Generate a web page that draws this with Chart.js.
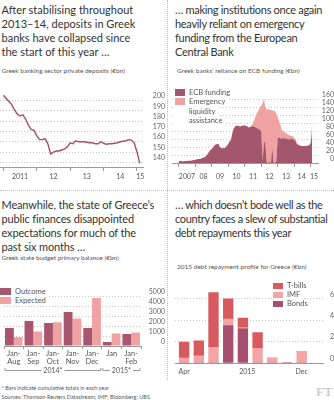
<!DOCTYPE html>
<html>
<head>
<meta charset="utf-8">
<script src="https://cdn.jsdelivr.net/npm/chart.js@4.4.1/dist/chart.umd.min.js"></script>
<style>
  html, body { margin: 0; padding: 0; background: #fff; }
  body { width: 334px; height: 400px; position: relative; overflow: hidden; font-family: Lato, "Open Sans", sans-serif; color: #333; }
  .title { position: absolute; font-size: 11px; line-height: 13.9px; color: #333; white-space: nowrap; }
  .sub { position: absolute; font-size: 6.5px; line-height: 8px; color: #555; white-space: nowrap; }
  .box { position: absolute; }
  .legend { position: absolute; font-size: 7.5px; color: #555; }
  .legend div { display: table; background: #fff; padding-right: 3px; white-space: nowrap; }
  .sw { display: inline-block; width: 10px; height: 7px; vertical-align: -1px; margin-right: 4px; }
  .vsep { position: absolute; left: 167px; top: 0; height: 380px; border-left: 1px dotted #bbb; }
  .hsep { position: absolute; left: 0; top: 190px; width: 334px; border-top: 1px dotted #bbb; }
  .note { position: absolute; left: 1.5px; font-size: 5.5px; line-height: 6.5px; color: #555; white-space: nowrap; }
  .ft { position: absolute; left: 316px; top: 385px; font: bold 13px "Liberation Serif", serif; color: #ccc; line-height: 13px; }
</style>
</head>
<body>
<div class="vsep"></div>
<div class="hsep"></div>

<div class="title" style="left:1.5px;top:3px">After stabilising throughout<br>2013–14, deposits in Greek<br>banks have collapsed since<br>the start of this year …</div>
<div class="sub" style="left:1.5px;top:67px">Greek banking sector private deposits (€bn)</div>

<div class="title" style="left:175px;top:3px;letter-spacing:-0.3px">… making institutions once again<br>heavily reliant on emergency<br>funding from the European<br>Central Bank</div>
<div class="sub" style="left:177px;top:67px">Greek banks’ reliance on ECB funding (€bn)</div>

<div class="title" style="left:1.5px;top:198px;letter-spacing:-0.15px">Meanwhile, the state of Greece’s<br>public finances disappointed<br>expectations for much of the<br>past six months …</div>
<div class="sub" style="left:1.5px;top:254px">Greek state budget primary balance (€bn)</div>

<div class="title" style="left:175px;top:198px;letter-spacing:-0.35px">… which doesn’t bode well as the<br>country faces a slew of substantial<br>debt repayments this year</div>
<div class="sub" style="left:177px;top:263px">2015 debt repayment profile for Greece (€bn)</div>

<div class="box" style="left:0;top:84px;width:165px;height:100px"><canvas id="c1"></canvas></div>
<div class="box" style="left:167px;top:84px;width:167px;height:100px"><canvas id="c2"></canvas></div>
<div class="box" style="left:0;top:286px;width:165px;height:94px"><canvas id="c3"></canvas></div>
<div class="box" style="left:167px;top:282px;width:167px;height:98px"><canvas id="c4"></canvas></div>

<div class="legend" style="left:175px;top:87.5px;line-height:9.5px">
  <div><span class="sw" style="background:#a5566f"></span>ECB funding</div>
  <div><span class="sw" style="background:#f0a1a2"></span>Emergency</div>
  <div style="padding-left:14px">liquidity</div>
  <div style="padding-left:14px">assistance</div>
</div>
<div class="legend" style="left:0;top:287px;line-height:9.3px">
  <div><span class="sw" style="width:11px;background:#a8566f"></span>Outcome</div>
  <div><span class="sw" style="width:11px;background:#f0a1a2"></span>Expected</div>
</div>
<div class="legend" style="left:273px;top:282.3px;line-height:8.7px">
  <div><span class="sw" style="height:6px;background:#d75b5e"></span>T-bills</div>
  <div><span class="sw" style="height:6px;background:#f3a4a4"></span>IMF</div>
  <div><span class="sw" style="height:6px;background:#a5506e"></span>Bonds</div>
</div>

<div class="note" style="top:385px">* Bars indicate cumulative totals in each year</div>
<div class="note" style="top:393.5px">Sources: Thomson Reuters Datastream; IMF; Bloomberg; UBS</div>
<div class="ft">FT</div>

<script>
// deposits, monthly from Jan 2011
const depStart = 2011;
const deposits = [
  205, 202, 199, 196, 191, 187, 185, 186, 182, 176, 172, 171,
  166, 162, 162, 163, 158, 148, 150, 151, 151, 152, 153, 155,
  159, 158, 161, 160, 160, 160, 159.5, 159, 159, 158, 158, 160,
  158.5, 157.5, 158, 158, 158.5, 159, 160, 160.5, 161, 162, 161.5, 159,
  150, 139
];
const depYearTicks = [2011, 2012, 2013, 2014, 2015];
const depLabelPos = [2011.5, 2012.5, 2013.5, 2014.5, 2015.1];
const depLabels = ['2011', '12', '13', '14', '15'];
const depYTicks = [140, 150, 160, 170, 180, 190, 200];

// ECB funding + ELA, monthly from Jan 2007
const ecbStart = 2007;
const ecbFunding = [
  5, 5, 5, 4, 5, 5, 5, 6, 6, 6, 7, 7,
  8, 9, 10, 10, 11, 12, 14, 15, 18, 23, 28, 33,
  35, 40, 45, 47, 48, 48, 40, 38, 37, 37, 40, 43,
  48, 55, 59, 75, 87, 92, 95, 94, 93, 93, 94, 95,
  95, 94, 92, 90, 91, 93, 93, 92, 90, 88, 86, 84,
  80, 5, 55, 50, 2, 0, 3, 0, 40, 2, 0, 5,
  65, 64, 62, 62, 63, 62, 62, 61, 60, 60, 61, 60,
  59, 55, 47, 46, 44, 43, 43, 43, 43, 43, 44, 45,
  50, 80
];
const elaFunding = [
  0, 0, 0, 0, 0, 0, 0, 0, 0, 0, 0, 0,
  0, 0, 0, 0, 0, 0, 0, 0, 0, 0, 0, 0,
  0, 0, 0, 0, 0, 0, 0, 0, 0, 0, 0, 0,
  0, 0, 0, 0, 0, 0, 0, 0, 0, 0, 0, 0,
  0, 0, 0, 0, 0, 2, 7, 18, 30, 39, 47, 56,
  65, 147, 107, 89, 134, 135, 132, 134, 93, 130, 131, 120,
  50, 43, 33, 21, 17, 16, 13, 12, 11, 9, 7, 7,
  5, 3, 4, 1, 0, 0, 0, 0, 0, 0, 0, 0,
  5, 20
];
const ecbYearTicks = [2007, 2008, 2009, 2010, 2011, 2012, 2013, 2014, 2015];
const ecbLabelPos = [2007.5, 2008.5, 2009.5, 2010.5, 2011.5, 2012.5, 2013.5, 2014.45, 2015.2];
const ecbLabels = ['2007', '08', '09', '10', '11', '12', '13', '14', '15'];
const ecbYTicks = [0, 20, 40, 60, 80, 100, 120, 140, 160];

// primary balance
const budgetCats = [['Jan-', 'Aug'], ['Jan-', 'Sep'], ['Jan-', 'Oct'], ['Jan-', 'Nov'], ['Jan-', 'Dec'], 'Jan', ['Jan-', 'Feb']];
const budgetOutcome = [1800, 2500, 2300, 3400, 1800, 400, 1200];
const budgetExpected = [900, 1450, 2380, 2750, 4800, 1250, 1350];
const budgetGroups = [{ label: '2014*', from: 0, to: 4 }, { label: '2015*', from: 5, to: 6 }];
const budgetYTicks = [0, 1000, 2000, 3000, 4000, 5000];

// 2015 repayments
const repayMonths = ['Apr', 'May', 'Jun', 'Jul', 'Aug', 'Sep', 'Oct', 'Nov', 'Dec'];
const repayBonds = [0, 0, 0, 3.5, 3.2, 0, 0, 0, 0];
const repayImf = [0.45, 0.68, 1.47, 0.6, 0.1, 1.36, 0.45, 0, 1.05];
const repayTbills = [1.5, 1.38, 5.1, 1.9, 0.9, 1.47, 0, 0, 0];
const repayTickAt = [0, 4.3, 8];
const repayTickText = ['Apr', '2015', 'Dec'];
const repayYTicks = [0, 2, 4, 6];

Chart.defaults.font.family = 'Lato, "Open Sans", sans-serif';
Chart.defaults.color = '#666';
Chart.defaults.animation = false;
Chart.defaults.plugins.legend.display = false;
Chart.defaults.plugins.tooltip.enabled = false;
Chart.defaults.responsive = true;
Chart.defaults.maintainAspectRatio = false;

function yearAxis(min, max, marks, labelPos, labels, height, padding) {
  return {
    type: 'linear', min: min, max: max,
    afterBuildTicks: s => {
      s.ticks = marks.concat(labelPos).sort((a, b) => a - b).map(v => ({ value: v }));
    },
    afterFit: s => { s.height = height; },
    ticks: {
      autoSkip: false, maxRotation: 0, padding: padding, color: '#555', font: { size: 7 },
      callback: v => { const i = labelPos.indexOf(v); return i >= 0 ? labels[i] : ''; }
    },
    grid: {
      drawOnChartArea: false, tickLength: 4,
      color: c => (c.tick && marks.includes(c.tick.value)) ? '#999' : 'rgba(0,0,0,0)'
    },
    border: { color: '#999' }
  };
}

function rightAxis(min, max, ticks, width, padding, stacked) {
  return {
    position: 'right', min: min, max: max, stacked: !!stacked,
    afterBuildTicks: s => { s.ticks = ticks.map(v => ({ value: v })); },
    afterFit: s => { s.width = width; },
    grid: { drawTicks: false, color: '#c8c8c8' },
    border: { display: false, dash: [1, 2] },
    ticks: {
      autoSkip: false, crossAlign: 'far', padding: padding, labelOffset: -4.5, color: '#666', font: { size: 7 },
      callback: v => String(v)
    }
  };
}

new Chart(document.getElementById('c1'), {
  type: 'line',
  data: {
    datasets: [{
      data: deposits.map((v, i) => ({ x: depStart + i / 12, y: v })),
      borderColor: '#a84e6d', borderWidth: 1.4, pointRadius: 0, tension: 0
    }]
  },
  options: {
    layout: { padding: { top: 2 } },
    scales: {
      x: yearAxis(2010.9, 2015.18, depYearTicks, depLabelPos, depLabels, 17, 2),
      y: rightAxis(135.5, 209, depYTicks, 22, 3)
    }
  }
});

new Chart(document.getElementById('c2'), {
  type: 'line',
  data: {
    datasets: [
      {
        label: 'ECB funding',
        data: ecbFunding.map((v, i) => ({ x: ecbStart + i / 12, y: v })),
        backgroundColor: '#a5566f', borderWidth: 0, pointRadius: 0, fill: 'origin', tension: 0
      },
      {
        label: 'Emergency liquidity assistance',
        data: elaFunding.map((v, i) => ({ x: ecbStart + i / 12, y: v })),
        backgroundColor: '#f0a1a2', borderWidth: 0, pointRadius: 0, fill: '-1', tension: 0
      }
    ]
  },
  options: {
    layout: { padding: { top: 2, left: 5 } },
    scales: {
      x: yearAxis(2006.594, 2015.44, ecbYearTicks, ecbLabelPos, ecbLabels, 21, 6),
      y: rightAxis(0, 184, ecbYTicks, 16, 2, true)
    }
  }
});

const bracketPlugin = {
  id: 'yearBrackets',
  afterDraw(chart) {
    const xs = chart.scales.x, ctx = chart.ctx;
    const half = xs.width / budgetCats.length / 2 - 1;
    const y = Math.round(chart.chartArea.bottom + 24) + 0.5;
    ctx.save();
    ctx.strokeStyle = '#999'; ctx.lineWidth = 1; ctx.fillStyle = '#555';
    ctx.font = '7px Lato, "Open Sans", sans-serif';
    ctx.textAlign = 'center'; ctx.textBaseline = 'middle';
    budgetGroups.forEach(g => {
      const x0 = xs.getPixelForValue(g.from) - half;
      const x1 = xs.getPixelForValue(g.to) + half;
      const mid = (x0 + x1) / 2, tw = ctx.measureText(g.label).width / 2 + 2;
      ctx.beginPath();
      ctx.moveTo(x0, y - 2.5); ctx.lineTo(x0, y); ctx.lineTo(mid - tw, y);
      ctx.moveTo(mid + tw, y); ctx.lineTo(x1, y); ctx.lineTo(x1, y - 2.5);
      ctx.stroke();
      ctx.fillText(g.label, mid, y);
    });
    ctx.restore();
  }
};

new Chart(document.getElementById('c3'), {
  type: 'bar',
  data: {
    labels: budgetCats,
    datasets: [
      { label: 'Outcome', data: budgetOutcome, backgroundColor: '#a8566f' },
      { label: 'Expected', data: budgetExpected, backgroundColor: '#f0a1a2' }
    ]
  },
  options: {
    categoryPercentage: 0.9, barPercentage: 1,
    layout: { padding: { top: 4, left: 4 } },
    scales: {
      x: {
        afterFit: s => { s.height = 34; },
        grid: { drawOnChartArea: false, tickLength: 3, color: '#999' },
        border: { color: '#999' },
        ticks: { padding: 0, maxRotation: 0, autoSkip: false, color: '#555', font: { size: 7.5, lineHeight: 1.1 } }
      },
      y: rightAxis(0, 5385, budgetYTicks, 24, 2)
    }
  },
  plugins: [bracketPlugin]
});

new Chart(document.getElementById('c4'), {
  type: 'bar',
  data: {
    datasets: [
      { label: 'Bonds', data: repayBonds.map((v, i) => ({ x: i, y: v })), backgroundColor: '#a5506e' },
      { label: 'IMF', data: repayImf.map((v, i) => ({ x: i, y: v })), backgroundColor: '#f3a4a4' },
      { label: 'T-bills', data: repayTbills.map((v, i) => ({ x: i, y: v })), backgroundColor: '#d75b5e' }
    ]
  },
  options: {
    barThickness: 9.7,
    layout: { padding: { top: 4, left: 8 } },
    scales: {
      x: {
        type: 'linear', min: -0.62, max: 9.45, stacked: true, offset: false,
        afterBuildTicks: s => { s.ticks = repayTickAt.map(v => ({ value: v })); },
        afterFit: s => { s.height = 17; },
        grid: { drawOnChartArea: false, drawTicks: false },
        border: { color: '#999' },
        ticks: {
          padding: 5, maxRotation: 0, autoSkip: false, color: '#555', font: { size: 7 },
          callback: v => { const i = repayTickAt.indexOf(v); return i >= 0 ? repayTickText[i] : ''; }
        }
      },
      y: rightAxis(0, 6.8, repayYTicks, 11, 4, true)
    }
  }
});
</script>
</body>
</html>
